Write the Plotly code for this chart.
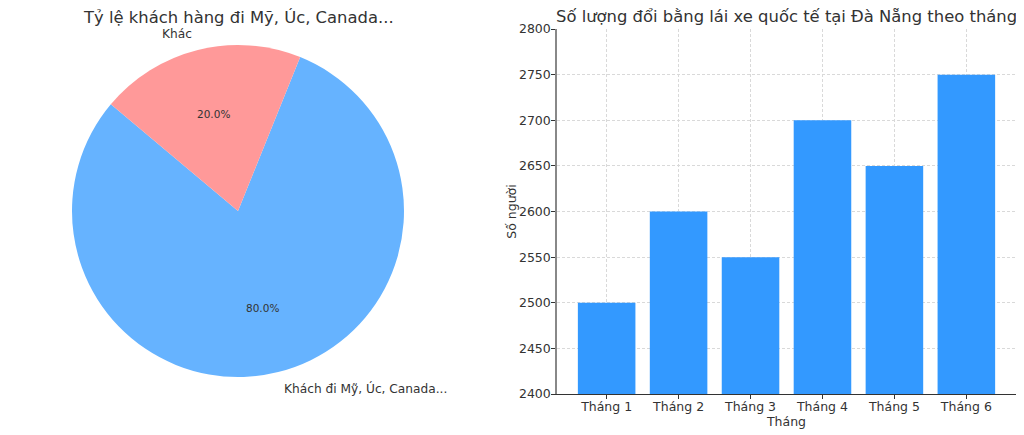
import math
import plotly.graph_objects as go

# ---- data ----
pie_labels = ["Khách đi Mỹ, Úc, Canada...", "Khác"]
pie_values = [80, 20]
pie_colors = ["#66B3FF", "#FF9999"]
pie_title = "Tỷ lệ khách hàng đi Mỹ, Úc, Canada..."

months = ["Tháng 1", "Tháng 2", "Tháng 3", "Tháng 4", "Tháng 5", "Tháng 6"]
counts = [2500, 2600, 2550, 2700, 2650, 2750]
bar_title = "Số lượng đổi bằng lái xe quốc tế tại Đà Nẵng theo tháng"

# the page body adds an 8px margin; size the figure to fill the rest
OFF = 8
W, H = 1024 - OFF, 435 - OFF
FONT = "DejaVu Sans"
TXT = "#333333"
START_ANGLE = 140  # degrees, counterclockwise from 3 o'clock


def fx(px):
    return (px - OFF) / W


def fy(py):
    return (H - (py - OFF)) / H


# pie geometry (window pixels)
cx, cy, r = 238, 211, 166
pie_dom_x = [fx(cx - r), fx(cx + r)]
pie_dom_y = [fy(cy + r), fy(cy - r)]

total = sum(pie_values)
# plotly (counterclockwise): rotation marks the end of the first slice
first_end = START_ANGLE + 360 * pie_values[0] / total
fig = go.Figure()
fig.add_trace(go.Pie(
    labels=pie_labels, values=pie_values, sort=False,
    direction="counterclockwise", rotation=90 - first_end,
    marker=dict(colors=pie_colors, line=dict(width=0)),
    textinfo="none", hoverinfo="label+percent", showlegend=False,
    domain=dict(x=pie_dom_x, y=pie_dom_y),
))

# labels placed like matplotlib: name at 1.1 r, percent at 0.6 r
ang = START_ANGLE
annotations = []
for lab, val in zip(pie_labels, pie_values):
    span = 360 * val / total
    mid = math.radians(ang + span / 2)
    ang += span
    ox, oy = math.cos(mid), math.sin(mid)
    annotations.append(dict(
        x=fx(cx + 1.1 * r * ox), y=fy(cy - 1.1 * r * oy),
        xref="paper", yref="paper", text=lab, showarrow=False,
        xanchor="left" if ox > 0 else "right", yanchor="middle",
        font=dict(family=FONT, size=12.2, color=TXT)))
    annotations.append(dict(
        x=fx(cx + 0.6 * r * ox), y=fy(cy - 0.6 * r * oy),
        xref="paper", yref="paper",
        text=f"{100 * val / total:.1f}%", showarrow=False,
        xanchor="center", yanchor="middle",
        font=dict(family=FONT, size=10.5, color=TXT)))

annotations.append(dict(
    x=fx(cx), y=fy(17), xref="paper", yref="paper", text=pie_title,
    showarrow=False, xanchor="center", yanchor="middle",
    font=dict(family=FONT, size=16.4, color=TXT)))

# bar chart (window pixels of the axes box)
ax_l, ax_r, ax_t, ax_b = 557, 1016, 29, 394
fig.add_trace(go.Bar(
    x=list(range(len(months))), y=counts, base=0, width=0.8,
    marker=dict(color="#3399FF", line=dict(width=0)),
    showlegend=False, xaxis="x", yaxis="y",
))
annotations.append(dict(
    x=fx((ax_l + ax_r) / 2), y=fy(16), xref="paper", yref="paper",
    text=bar_title, showarrow=False, xanchor="center", yanchor="middle",
    font=dict(family=FONT, size=16.4, color=TXT)))

grid = dict(showgrid=True, gridcolor="#d9d9d9", griddash="3px,2px", gridwidth=0.8)

fig.update_layout(
    width=W, height=H, margin=dict(l=0, r=0, t=0, b=0, autoexpand=False),
    paper_bgcolor="white", plot_bgcolor="white",
    font=dict(family=FONT, color=TXT, size=12),
    xaxis=dict(
        domain=[fx(ax_l), fx(ax_r)], anchor="y", automargin=False,
        range=[-0.69, len(months) - 1 + 0.69],
        tickmode="array", tickvals=list(range(len(months))), ticktext=months,
        ticks="outside", ticklen=4, tickcolor="#333", tickfont=dict(size=12.5, color=TXT),
        ticklabelstandoff=-3,
        showline=True, linecolor="#333", linewidth=1.2, zeroline=False,
        title=dict(text="Tháng", font=dict(size=12.5, color=TXT), standoff=2),
        **grid,
    ),
    yaxis=dict(
        domain=[fy(ax_b), fy(ax_t)], anchor="x", automargin=False,
        range=[2400, 2800], dtick=50, tick0=2400,
        ticks="outside", ticklen=4, tickcolor="#333", tickfont=dict(size=12.5, color=TXT),
        ticklabelstandoff=-2,
        showline=True, linecolor="#888", linewidth=1.5, zeroline=False,
        title=dict(text="Số người", font=dict(size=12.5, color=TXT), standoff=0),
        **grid,
    ),
    annotations=annotations,
)

fig.write_html("out.html")
